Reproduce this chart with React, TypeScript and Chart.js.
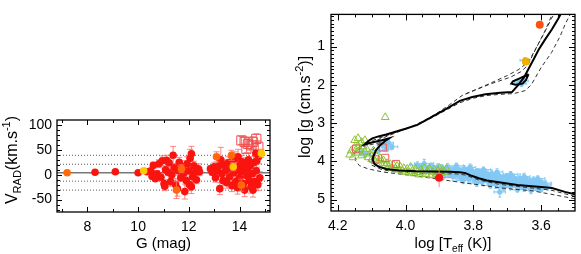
import React, { useEffect, useRef } from "react";
import { Chart, registerables } from "chart.js";

Chart.register(...registerables);

const FONT = "'Liberation Sans', Arial, Helvetica, sans-serif";

// ================= Left panel: V_RAD vs G =================
const gTicks = [8, 10, 12, 14];
const rvTicks = [-50, 0, 50, 100];
const rvMean = 4;
const rvLevels = [39, 21, -13, -31];

// [G, Vrad, err]
const redStars = [
  [8.3, 5, 1], [9.1, 6, 1], [10.0, 4, 2], [10.35, 6, 2],
  [10.5, 8, 4], [10.55, -3, 6], [10.6, 19, 6], [10.68, -8, 5],
  [10.75, 2, 6], [10.82, 22, 8], [10.9, -5, 6],
  [10.95, 28, 10], [11.02, -18, 8], [11.05, -23, 9], [11.08, 10, 6],
  [11.12, 29, 10], [11.18, 5, 7], [11.22, 24, 9],
  [11.28, -14, 9], [11.33, 0, 7], [11.38, 39, 18], [11.42, 14, 8],
  [11.48, -20, 12], [11.55, -28, 15], [11.58, 8, 9],
  [11.62, 25, 10], [11.68, -6, 8], [11.75, 16, 12],
  [11.8, 3, 8], [11.84, -34, 15], [11.9, -12, 9], [11.93, 22, 14],
  [12.0, 8, 8], [12.02, -20, 12], [12.05, 33, 18], [12.1, 42, 15],
  [12.1, -24, 14], [12.15, -4, 12], [12.2, 18, 9],
  [12.25, 5, 12], [12.3, -10, 8], [12.38, 12, 10], [12.42, 6, 8],
  [12.85, 12, 6], [12.92, 5, 6], [13.0, 16, 8], [13.05, -6, 9],
  [13.12, 8, 7], [13.2, 18, 9], [13.22, -28, 12], [13.26, 30, 25],
  [13.3, 2, 8], [13.35, -12, 10], [13.4, 20, 10],
  [13.45, 9, 9], [13.5, -16, 11], [13.55, 24, 12],
  [13.6, -4, 10], [13.65, 12, 8], [13.7, -22, 12], [13.72, 28, 14],
  [13.78, 4, 9], [13.82, 32, 14], [13.85, -14, 12],
  [13.9, 14, 11], [13.92, -26, 13], [13.94, 36, 15], [14.0, -6, 11],
  [14.02, 20, 12], [14.05, 6, 10], [14.1, 26, 13], [14.15, -18, 12],
  [14.18, 12, 11], [14.2, -31, 13], [14.25, 22, 12], [14.28, -2, 11],
  [14.32, 12, 10], [14.35, 30, 14], [14.38, -12, 12], [14.42, 18, 12], [14.45, -24, 13],
  [14.5, 2, 10], [14.53, -31, 14], [14.55, 24, 13], [14.6, -14, 12],
  [14.64, 43, 16], [14.66, 8, 12], [14.68, 28, 13], [14.72, -20, 12],
  [14.75, 36, 14], [14.8, -6, 12],
];
const orangeStars = [
  [7.2, 4, 1], [11.71, 12, 8], [11.51, -31, 17], [13.09, 36, 10], [13.68, 39, 10], [14.07, -21, 12],
];
const yellowStars = [
  [10.22, 8, 4], [13.75, 16, 8], [14.86, 43, 8],
];
const squareStars = [
  [14.07, 69, 8], [14.2, 66, 10], [14.27, 52, 8], [14.33, 62, 9], [14.47, 59, 8],
  [14.52, 66, 10], [14.66, 72, 10], [14.74, 56, 12],
];

// ================= Right panel: Kiel diagram =================
const teffTicks = [4.2, 4.0, 3.8, 3.6];
const loggTicks = [1, 2, 3, 4, 5];

const isoSolid = [
  [3.50, 4.86], [3.53, 4.80], [3.568, 4.70], [3.60, 4.67], [3.627, 4.65], [3.67, 4.62], [3.725, 4.55],
  [3.76, 4.50], [3.784, 4.445], [3.805, 4.38], [3.823, 4.31], [3.84, 4.285], [3.87, 4.275], [3.92, 4.268],
  [3.969, 4.262], [4.02, 4.24], [4.057, 4.20], [4.08, 4.14], [4.092, 4.07], [4.097, 3.96], [4.095, 3.87],
  [4.088, 3.72], [4.075, 3.58], [4.06, 3.47], [4.048, 3.40], [4.07, 3.45], [4.10, 3.51], [4.121, 3.56],
  [4.11, 3.47], [4.098, 3.40], [4.08, 3.35], [4.057, 3.30], [4.0, 3.15], [3.965, 3.05], [3.921, 2.83],
  [3.88, 2.63], [3.84, 2.42], [3.803, 2.32], [3.764, 2.25], [3.72, 2.21], [3.686, 2.19], [3.675, 2.08],
  [3.666, 1.99], [3.65, 1.80], [3.637, 1.58], [3.62, 1.30], [3.607, 1.08], [3.59, 0.84], [3.568, 0.55],
  [3.55, 0.28], [3.539, 0.10],
];
const isoLoop = [
  [3.637, 1.72], [3.66, 1.82], [3.683, 1.91], [3.688, 1.97], [3.675, 2.0], [3.655, 1.97], [3.645, 1.88], [3.637, 1.72],
];
const isoDashA = [
  [3.50, 4.98], [3.56, 4.88], [3.627, 4.77], [3.68, 4.73], [3.725, 4.69], [3.78, 4.62], [3.823, 4.57],
  [3.87, 4.51], [3.92, 4.445], [3.98, 4.37], [4.03, 4.32], [4.067, 4.28], [4.11, 4.2], [4.136, 4.115],
  [4.148, 3.98], [4.15, 3.75], [4.12, 3.6], [4.087, 3.46], [4.05, 3.33], [4.018, 3.22], [3.96, 3.02],
  [3.92, 2.85], [3.88, 2.66], [3.84, 2.47], [3.80, 2.35], [3.76, 2.28], [3.72, 2.25], [3.68, 2.23],
  [3.646, 2.15], [3.628, 1.985], [3.60, 1.55], [3.569, 1.155], [3.545, 0.75], [3.529, 0.42], [3.511, 0.10],
];
const isoDashB = [
  [3.50, 4.92], [3.568, 4.76], [3.627, 4.70], [3.725, 4.60], [3.784, 4.49], [3.823, 4.36], [3.85, 4.33],
  [3.92, 4.32], [3.97, 4.31], [4.03, 4.28], [4.07, 4.22], [4.10, 4.10], [4.11, 3.95], [4.105, 3.80],
  [4.09, 3.62], [4.07, 3.5], [4.11, 3.58], [4.135, 3.62], [4.11, 3.5], [4.08, 3.4], [4.04, 3.28],
  [3.99, 3.12], [3.95, 2.96], [3.91, 2.76], [3.87, 2.52], [3.833, 2.28], [3.76, 2.0], [3.70, 1.76],
  [3.666, 1.60], [3.637, 1.40], [3.607, 0.91], [3.585, 0.55], [3.569, 0.26], [3.558, 0.10],
];
const isoDashC = [
  [3.823, 2.24], [3.75, 1.98], [3.69, 1.80], [3.66, 1.66], [3.64, 1.50], [3.615, 1.05], [3.59, 0.62],
  [3.575, 0.32], [3.565, 0.10],
];

// [logTeff, logg, errT, errg]
const blueStars = [
  [3.965, 4.10, 0.015, 0.06], [3.955, 4.16, 0.012, 0.05], [3.945, 4.06, 0.02, 0.08], [3.935, 4.20, 0.012, 0.06],
  [3.925, 4.12, 0.015, 0.05], [3.915, 4.24, 0.01, 0.07], [3.905, 4.15, 0.02, 0.06], [3.9, 4.32, 0.012, 0.05],
  [3.893, 4.20, 0.015, 0.08], [3.887, 4.38, 0.01, 0.06], [3.881, 4.26, 0.02, 0.05], [3.876, 4.16, 0.012, 0.07],
  [3.87, 4.34, 0.015, 0.06], [3.865, 4.22, 0.01, 0.05], [3.86, 4.40, 0.02, 0.08], [3.855, 4.28, 0.012, 0.06],
  [3.85, 4.18, 0.015, 0.05], [3.846, 4.36, 0.01, 0.07], [3.841, 4.24, 0.02, 0.06], [3.836, 4.44, 0.012, 0.05],
  [3.832, 4.30, 0.015, 0.08], [3.827, 4.20, 0.01, 0.06], [3.823, 4.38, 0.02, 0.05], [3.818, 4.27, 0.012, 0.07],
  [3.814, 4.46, 0.015, 0.06], [3.81, 4.33, 0.01, 0.05], [3.806, 4.22, 0.02, 0.08], [3.802, 4.41, 0.012, 0.06],
  [3.798, 4.30, 0.015, 0.05], [3.794, 4.49, 0.01, 0.07], [3.79, 4.36, 0.02, 0.06], [3.786, 4.26, 0.012, 0.05],
  [3.782, 4.44, 0.015, 0.08], [3.778, 4.34, 0.01, 0.06], [3.774, 4.53, 0.02, 0.05], [3.77, 4.40, 0.012, 0.07],
  [3.766, 4.29, 0.015, 0.06], [3.762, 4.48, 0.01, 0.05], [3.758, 4.37, 0.02, 0.08], [3.754, 4.56, 0.012, 0.06],
  [3.75, 4.44, 0.015, 0.05], [3.746, 4.33, 0.01, 0.07], [3.742, 4.52, 0.02, 0.06], [3.738, 4.41, 0.012, 0.05],
  [3.734, 4.60, 0.015, 0.08], [3.73, 4.47, 0.01, 0.06], [3.726, 4.36, 0.02, 0.05], [3.722, 4.80, 0.012, 0.1],
  [3.718, 4.55, 0.015, 0.06], [3.714, 4.43, 0.01, 0.05], [3.71, 4.62, 0.02, 0.08], [3.706, 4.50, 0.012, 0.06],
  [3.702, 4.39, 0.015, 0.05], [3.698, 4.58, 0.01, 0.07], [3.694, 4.47, 0.02, 0.06], [3.69, 4.65, 0.012, 0.05],
  [3.686, 4.53, 0.015, 0.08], [3.682, 4.42, 0.01, 0.06], [3.678, 4.61, 0.02, 0.05], [3.674, 4.50, 0.012, 0.07],
  [3.67, 4.67, 0.015, 0.06], [3.666, 4.56, 0.01, 0.05], [3.662, 4.45, 0.02, 0.08], [3.658, 4.63, 0.012, 0.06],
  [3.654, 4.52, 0.015, 0.05], [3.65, 4.69, 0.01, 0.07], [3.646, 4.58, 0.02, 0.06], [3.642, 4.47, 0.012, 0.05],
  [3.638, 4.65, 0.015, 0.08], [3.634, 4.54, 0.01, 0.06], [3.63, 4.70, 0.02, 0.05], [3.626, 4.60, 0.012, 0.07],
  [3.622, 4.49, 0.015, 0.06], [3.618, 4.66, 0.01, 0.05], [3.614, 4.56, 0.02, 0.08], [3.61, 4.70, 0.012, 0.06],
  [3.606, 4.52, 0.015, 0.05], [3.602, 4.63, 0.01, 0.07], [3.598, 4.57, 0.02, 0.06], [3.594, 4.67, 0.012, 0.05],
  [3.59, 4.60, 0.015, 0.06], [3.586, 4.64, 0.01, 0.05],
  [3.84, 4.32, 0.015, 0.05], [3.8, 4.37, 0.01, 0.06], [3.76, 4.42, 0.015, 0.05], [3.72, 4.50, 0.012, 0.06],
  [3.68, 4.57, 0.015, 0.05], [3.64, 4.62, 0.01, 0.06], [3.78, 4.47, 0.012, 0.05], [3.74, 4.38, 0.015, 0.06],
  [3.70, 4.45, 0.012, 0.05], [3.66, 4.60, 0.015, 0.06], [3.62, 4.58, 0.01, 0.05], [3.82, 4.24, 0.012, 0.05],
  [3.86, 4.30, 0.015, 0.06],
  [3.85, 4.12, 0.015, 0.05], [3.81, 4.16, 0.012, 0.06], [3.77, 4.22, 0.015, 0.05], [3.73, 4.28, 0.012, 0.06],
  [3.69, 4.34, 0.015, 0.05], [3.65, 4.40, 0.012, 0.06], [3.61, 4.45, 0.015, 0.05],
  [3.83, 4.50, 0.015, 0.06], [3.79, 4.57, 0.012, 0.06], [3.75, 4.63, 0.015, 0.05], [3.71, 4.69, 0.012, 0.06],
  [3.67, 4.74, 0.015, 0.05], [3.63, 4.76, 0.012, 0.06], [3.60, 4.73, 0.015, 0.05],
  [4.13, 3.78, 0.01, 0.05], [4.12, 3.82, 0.012, 0.06], [4.07, 3.55, 0.01, 0.06], [4.06, 3.6, 0.012, 0.05],
  [4.05, 3.52, 0.01, 0.06], [4.04, 3.62, 0.012, 0.05], [4.055, 3.68, 0.01, 0.05], [4.08, 3.72, 0.012, 0.05],
  [3.665, 1.93, 0.01, 0.05], [3.658, 1.97, 0.01, 0.05], [3.652, 1.9, 0.01, 0.05], [3.648, 1.36, 0.01, 0.05],
];
// [logTeff, logg]
const greenStars = [
  [4.165, 3.83], [4.16, 3.72], [4.155, 3.9], [4.15, 3.65], [4.145, 3.78], [4.14, 3.6], [4.135, 3.7],
  [4.13, 3.85], [4.125, 3.62], [4.12, 3.75], [4.115, 3.68], [4.11, 3.9], [4.105, 3.8], [4.1, 3.95],
  [4.095, 3.72], [4.09, 4.0], [4.085, 3.88], [4.08, 4.05], [4.075, 3.92], [4.07, 4.1], [4.065, 3.98],
  [4.06, 4.12], [4.055, 4.05], [4.05, 4.15], [4.045, 4.08], [4.04, 4.18], [4.035, 4.1], [4.03, 4.2],
  [4.025, 4.12], [4.02, 4.22], [4.015, 4.15], [4.01, 4.25], [4.005, 4.18], [4.0, 4.28], [3.995, 4.2],
  [3.99, 4.3], [3.985, 4.15], [3.98, 4.25], [3.975, 4.32], [3.97, 4.2], [3.965, 4.28], [3.96, 4.35],
  [3.955, 4.22], [3.95, 4.3], [3.945, 4.18], [3.94, 4.34], [3.935, 4.26], [3.93, 4.2], [3.925, 4.36],
  [3.92, 4.28], [3.915, 4.22], [3.91, 4.33], [3.905, 4.25], [3.9, 4.18], [3.895, 4.3], [3.89, 4.22],
  [3.885, 4.28], [3.88, 4.2], [4.15, 3.45], [4.14, 3.4], [4.13, 3.5], [4.12, 3.45], [4.06, 2.85],
];
const redSquaresK = [[4.146, 3.67], [4.067, 3.64], [4.089, 3.95], [4.06, 3.91], [4.028, 4.07]];
const redDotK = [[3.901, 4.43, 0.035, 0.25]];
const orangeDotK = [[3.604, 0.43]];
const goldDotK = [[3.645, 1.39]];

// ================= helpers =================
const xy = (rows: number[][]) => rows.map((r) => ({ x: r[0], y: r[1] }));

function range(a: number, b: number, step: number) {
  const out: number[] = [];
  const n = Math.round((b - a) / step);
  for (let i = 0; i <= n; i++) out.push(+(a + i * step).toFixed(4));
  return out;
}

type Part = { t: string; k?: "sub" | "sup" };
function drawRich(ctx: CanvasRenderingContext2D, parts: Part[], cx: number, cy: number, rot: boolean, size: number) {
  ctx.save();
  ctx.translate(cx, cy);
  if (rot) ctx.rotate(-Math.PI / 2);
  const small = Math.round(size * 0.66);
  const fontFor = (p: Part) => `${p.k ? small : size}px ${FONT}`;
  let total = 0;
  parts.forEach((p) => {
    ctx.font = fontFor(p);
    total += ctx.measureText(p.t).width;
  });
  let x = -total / 2;
  ctx.textAlign = "left";
  ctx.textBaseline = "alphabetic";
  ctx.fillStyle = "#000";
  const base = size * 0.36;
  parts.forEach((p) => {
    ctx.font = fontFor(p);
    const dy = p.k === "sub" ? size * 0.28 : p.k === "sup" ? -size * 0.42 : 0;
    ctx.fillText(p.t, x, base + dy);
    x += ctx.measureText(p.t).width;
  });
  ctx.restore();
}

const errorBarPlugin = {
  id: "errbars",
  beforeDatasetDraw(chart: any, args: any) {
    const ds = chart.data.datasets[args.index];
    if (!ds.errY && !ds.errX) return;
    const xs = chart.scales.x;
    const ys = chart.scales.y;
    const a = chart.chartArea;
    const ctx = chart.ctx;
    ctx.save();
    ctx.beginPath();
    ctx.rect(a.left, a.top, a.right - a.left, a.bottom - a.top);
    ctx.clip();
    ctx.strokeStyle = ds.errColor;
    ctx.lineWidth = ds.errWidth || 1;
    const cap = ds.errCap || 0;
    ds.data.forEach((p: any, i: number) => {
      const px = xs.getPixelForValue(p.x);
      const py = ys.getPixelForValue(p.y);
      ctx.beginPath();
      if (ds.errY && ds.errY[i]) {
        const y1 = ys.getPixelForValue(p.y - ds.errY[i]);
        const y2 = ys.getPixelForValue(p.y + ds.errY[i]);
        ctx.moveTo(px, y1);
        ctx.lineTo(px, y2);
        if (cap) {
          ctx.moveTo(px - cap, y1);
          ctx.lineTo(px + cap, y1);
          ctx.moveTo(px - cap, y2);
          ctx.lineTo(px + cap, y2);
        }
      }
      if (ds.errX && ds.errX[i]) {
        const x1 = xs.getPixelForValue(p.x - ds.errX[i]);
        const x2 = xs.getPixelForValue(p.x + ds.errX[i]);
        ctx.moveTo(x1, py);
        ctx.lineTo(x2, py);
        if (cap) {
          ctx.moveTo(x1, py - cap);
          ctx.lineTo(x1, py + cap);
          ctx.moveTo(x2, py - cap);
          ctx.lineTo(x2, py + cap);
        }
      }
      ctx.stroke();
    });
    ctx.restore();
  },
};

function makeFramePlugin(o: {
  xMajor: number[];
  xMinor: number[];
  yMajor: number[];
  yMinor: number[];
  majLen: number;
  minLen: number;
  titles: (ctx: CanvasRenderingContext2D, chart: any) => void;
}) {
  return {
    id: "frame",
    afterDraw(chart: any) {
      const { ctx, chartArea: a, scales } = chart;
      const xs = scales.x;
      const ys = scales.y;
      ctx.save();
      ctx.strokeStyle = "#000";
      ctx.lineWidth = 1.3;
      ctx.strokeRect(a.left, a.top, a.right - a.left, a.bottom - a.top);
      ctx.lineWidth = 1;
      ctx.beginPath();
      const xt = (v: number, len: number) => {
        const px = Math.round(xs.getPixelForValue(v)) + 0.5;
        if (px < a.left + 1 || px > a.right - 1) return;
        ctx.moveTo(px, a.bottom);
        ctx.lineTo(px, a.bottom - len);
        ctx.moveTo(px, a.top);
        ctx.lineTo(px, a.top + len);
      };
      const yt = (v: number, len: number) => {
        const py = Math.round(ys.getPixelForValue(v)) + 0.5;
        if (py < a.top + 1 || py > a.bottom - 1) return;
        ctx.moveTo(a.left, py);
        ctx.lineTo(a.left + len, py);
        ctx.moveTo(a.right, py);
        ctx.lineTo(a.right - len, py);
      };
      o.xMinor.forEach((v) => xt(v, o.minLen));
      o.yMinor.forEach((v) => yt(v, o.minLen));
      o.xMajor.forEach((v) => xt(v, o.majLen));
      o.yMajor.forEach((v) => yt(v, o.majLen));
      ctx.stroke();
      o.titles(ctx, chart);
      ctx.restore();
    },
  };
}

const tickFont = { family: FONT, size: 14 };

function LeftChart() {
  const ref = useRef<HTMLCanvasElement>(null);
  useEffect(() => {
    const circle = (rows: number[][], color: string) => ({
      data: xy(rows),
      errY: rows.map((r) => r[2]),
      errColor: "rgba(255,110,110,0.85)",
      errCap: 3,
      pointStyle: "circle",
      pointRadius: 3.8,
      backgroundColor: color,
      borderColor: color,
      borderWidth: 0,
    });
    const hline = (v: number, dash: number[], color: string, w: number) => ({
      data: [
        { x: 6.8, y: v },
        { x: 15.2, y: v },
      ],
      showLine: true,
      pointRadius: 0,
      borderColor: color,
      borderWidth: w,
      borderDash: dash,
      fill: false,
    });
    const chart = new Chart(ref.current!, {
      type: "scatter",
      data: {
        datasets: [
          circle(yellowStars, "rgb(255,200,0)"),
          circle(orangeStars, "rgb(255,105,10)"),
          circle(redStars, "rgb(250,20,15)"),
          {
            data: xy(squareStars),
            errY: squareStars.map((r) => r[2]),
            errColor: "rgba(240,90,90,0.9)",
            errCap: 3,
            pointStyle: "rect",
            pointRadius: 6.5,
            backgroundColor: "rgba(0,0,0,0)",
            borderColor: "rgb(240,80,80)",
            borderWidth: 1,
          },
          hline(rvMean, [], "rgb(120,120,120)", 1.5),
          ...rvLevels.map((v) => hline(v, [1, 2], "rgb(90,90,90)", 1)),
        ] as any,
      },
      options: {
        animation: false,
        responsive: false,
        layout: { padding: { top: 20, right: 20, left: 0, bottom: 0 } },
        plugins: { legend: { display: false }, tooltip: { enabled: false } },
        scales: {
          x: {
            type: "linear",
            min: 6.8,
            max: 15.2,
            grid: { display: false, drawTicks: false },
            border: { display: false },
            afterBuildTicks: (s: any) => {
              s.ticks = gTicks.map((v) => ({ value: v }));
            },
            afterFit: (s: any) => {
              s.height = 42;
            },
            ticks: { font: tickFont, color: "#000", padding: 7, maxRotation: 0, autoSkip: false, callback: (v: any) => String(v) },
          },
          y: {
            type: "linear",
            min: -75,
            max: 110,
            grid: { display: false, drawTicks: false },
            border: { display: false },
            afterBuildTicks: (s: any) => {
              s.ticks = rvTicks.map((v) => ({ value: v }));
            },
            afterFit: (s: any) => {
              s.width = 57;
            },
            ticks: { font: tickFont, color: "#000", padding: 5, autoSkip: false, callback: (v: any) => String(v) },
          },
        },
      } as any,
      plugins: [
        errorBarPlugin,
        makeFramePlugin({
          xMajor: gTicks,
          xMinor: range(7, 15, 1),
          yMajor: rvTicks,
          yMinor: range(-70, 110, 10),
          majLen: 5,
          minLen: 3,
          titles: (ctx, ch) => {
            const a = ch.chartArea;
            drawRich(ctx, [{ t: "G (mag)" }], (a.left + a.right) / 2, 142.5, false, 15);
            drawRich(
              ctx,
              [{ t: "V" }, { t: "RAD", k: "sub" }, { t: "(km.s" }, { t: "-1", k: "sup" }, { t: ")" }],
              11,
              60,
              true,
              16
            );
          },
        }),
      ] as any,
    });
    return () => chart.destroy();
  }, []);
  return <canvas ref={ref} width={290} height={154} style={{ position: "absolute", left: 0, top: 100 }} />;
}

function RightChart() {
  const ref = useRef<HTMLCanvasElement>(null);
  useEffect(() => {
    const line = (rows: number[][], color: string, w: number, dash: number[]) => ({
      data: xy(rows),
      showLine: true,
      pointRadius: 0,
      borderColor: color,
      borderWidth: w,
      borderDash: dash,
      fill: false,
      tension: 0,
    });
    const chart = new Chart(ref.current!, {
      type: "scatter",
      data: {
        datasets: [
          { data: xy(orangeDotK), pointStyle: "circle", pointRadius: 4, backgroundColor: "rgb(255,80,20)", borderWidth: 0 },
          {
            data: xy(goldDotK),
            pointStyle: "circle",
            pointRadius: 4,
            backgroundColor: "rgb(240,175,0)",
            borderColor: "rgb(120,90,0)",
            borderWidth: 0,
          },
          {
            data: xy(redDotK),
            errX: redDotK.map((r) => r[2]),
            errY: redDotK.map((r) => r[3]),
            errColor: "rgba(255,120,120,0.9)",
            pointStyle: "circle",
            pointRadius: 4,
            backgroundColor: "rgb(250,20,15)",
            borderWidth: 0,
          },
          line(isoSolid, "#000", 2, []),
          line(isoLoop, "#000", 2, []),
          {
            data: xy(redSquaresK),
            pointStyle: "rect",
            pointRadius: 5,
            backgroundColor: "rgba(0,0,0,0)",
            borderColor: "rgb(240,90,90)",
            borderWidth: 1,
          },
          {
            data: xy(greenStars),
            pointStyle: "triangle",
            pointRadius: 4.5,
            backgroundColor: "rgba(0,0,0,0)",
            borderColor: "rgb(140,195,50)",
            borderWidth: 1,
          },
          line(isoDashA, "rgb(50,50,50)", 1, [4, 3]),
          line(isoDashB, "rgb(50,50,50)", 1, [4, 3]),
          line(isoDashC, "rgb(50,50,50)", 1, [4, 3]),
          {
            data: xy(blueStars),
            errX: blueStars.map((r) => r[2] * 1.4),
            errY: blueStars.map((r) => r[3] * 1.4),
            errColor: "rgb(140,205,245)",
            errCap: 1.5,
            errWidth: 1.2,
            pointStyle: "circle",
            pointRadius: 2.6,
            backgroundColor: "rgb(130,200,245)",
            borderWidth: 0,
          },
        ] as any,
      },
      options: {
        animation: false,
        responsive: false,
        layout: { padding: { top: 3, right: 4, left: 0, bottom: 0 } },
        plugins: { legend: { display: false }, tooltip: { enabled: false } },
        scales: {
          x: {
            type: "linear",
            min: 3.5,
            max: 4.22,
            reverse: true,
            grid: { display: false, drawTicks: false },
            border: { display: false },
            afterBuildTicks: (s: any) => {
              s.ticks = teffTicks.map((v) => ({ value: v }));
            },
            afterFit: (s: any) => {
              s.height = 43;
            },
            ticks: { font: tickFont, color: "#000", padding: 7, maxRotation: 0, autoSkip: false, callback: (v: any) => Number(v).toFixed(1) },
          },
          y: {
            type: "linear",
            min: 0.16,
            max: 5.3,
            reverse: true,
            grid: { display: false, drawTicks: false },
            border: { display: false },
            afterBuildTicks: (s: any) => {
              s.ticks = loggTicks.map((v) => ({ value: v }));
            },
            afterFit: (s: any) => {
              s.width = 41;
            },
            ticks: { font: tickFont, color: "#000", padding: 6, autoSkip: false, callback: (v: any) => String(v) },
          },
        },
      } as any,
      plugins: [
        errorBarPlugin,
        makeFramePlugin({
          xMajor: teffTicks,
          xMinor: range(3.5, 4.2, 0.05),
          yMajor: loggTicks,
          yMinor: range(0.2, 5.3, 0.1),
          majLen: 6,
          minLen: 3,
          titles: (ctx, ch) => {
            const a = ch.chartArea;
            drawRich(
              ctx,
              [{ t: "log [T" }, { t: "eff", k: "sub" }, { t: " (K)]" }],
              (a.left + a.right) / 2,
              242.5,
              false,
              15
            );
            drawRich(ctx, [{ t: "log [g (cm.s" }, { t: "-2", k: "sup" }, { t: ")]" }], 14, 107, true, 16);
          },
        }),
      ] as any,
    });
    return () => chart.destroy();
  }, []);
  return <canvas ref={ref} width={291} height={254} style={{ position: "absolute", left: 290, top: 0 }} />;
}

export default function App() {
  return (
    <div style={{ position: "fixed", left: 0, top: 0, width: 581, height: 254, background: "#fff" }}>
      <LeftChart />
      <RightChart />
    </div>
  );
}
